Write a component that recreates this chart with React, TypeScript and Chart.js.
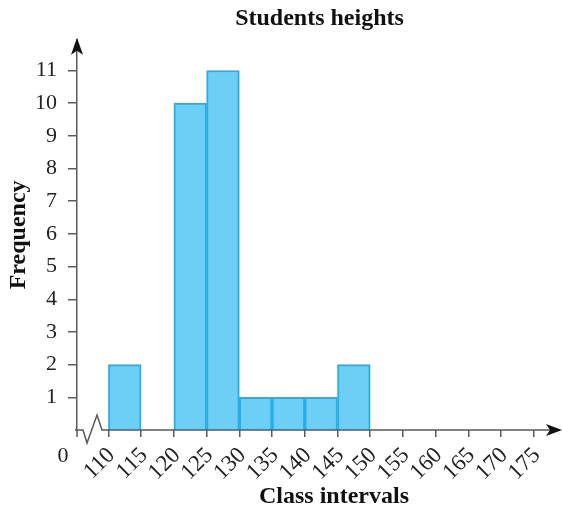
import { useEffect, useRef } from 'react';
import { Chart, registerables } from 'chart.js';

Chart.register(...registerables);

// ---- data ----
const classCenters = [112.5, 117.5, 122.5, 127.5, 132.5, 137.5, 142.5, 147.5];
const frequencies = [2, 0, 10, 11, 1, 1, 1, 2];
const xTickValues = [110, 115, 120, 125, 130, 135, 140, 145, 150, 155, 160, 165, 170, 175];
const yTickValues = [1, 2, 3, 4, 5, 6, 7, 8, 9, 10, 11];
const chartTitle = 'Students heights';
const xAxisTitle = 'Class intervals';
const yAxisTitle = 'Frequency';
const originLabel = '0';

const SERIF = '"Liberation Serif", "Times New Roman", serif';
const AXIS_COLOR = '#5a5a5a';

const decorations = {
  id: 'decorations',
  afterDraw(chart: any) {
    const { ctx, chartArea } = chart;
    const { left, right, top, bottom } = chartArea;
    ctx.save();
    ctx.strokeStyle = AXIS_COLOR;
    ctx.fillStyle = '#111';
    ctx.lineWidth = 1.5;
    // x axis with break
    ctx.beginPath();
    ctx.moveTo(left - 2, bottom);
    ctx.lineTo(left + 6, bottom);
    ctx.lineTo(left + 10, bottom + 13);
    ctx.lineTo(left + 20, bottom - 15);
    ctx.lineTo(left + 25, bottom);
    ctx.lineTo(right - 8, bottom);
    ctx.stroke();
    // y axis extension below
    ctx.beginPath();
    ctx.moveTo(left, bottom);
    ctx.lineTo(left, bottom + 7);
    ctx.stroke();
    // arrows
    ctx.beginPath();
    ctx.moveTo(right, bottom);
    ctx.lineTo(right - 16, bottom - 6);
    ctx.lineTo(right - 12, bottom);
    ctx.lineTo(right - 16, bottom + 6);
    ctx.closePath();
    ctx.fill();
    ctx.beginPath();
    ctx.moveTo(left, top - 2);
    ctx.lineTo(left - 6, top + 15);
    ctx.lineTo(left, top + 11);
    ctx.lineTo(left + 6, top + 15);
    ctx.closePath();
    ctx.fill();
    // origin label
    ctx.fillStyle = '#222';
    ctx.font = `22px ${SERIF}`;
    ctx.textAlign = 'center';
    ctx.textBaseline = 'middle';
    ctx.fillText(originLabel, left - 14, bottom + 26);
    // x axis title
    ctx.fillStyle = '#111';
    ctx.font = `bold 24px ${SERIF}`;
    ctx.fillText(xAxisTitle, 334, 497);
    ctx.restore();
  },
};

export default function App() {
  const canvasRef = useRef<HTMLCanvasElement | null>(null);

  useEffect(() => {
    if (!canvasRef.current) return;
    const chart = new Chart(canvasRef.current, {
      type: 'bar',
      data: {
        datasets: [
          {
            label: 'Frequency',
            data: classCenters.map((x, i) => ({ x, y: frequencies[i] })),
            backgroundColor: '#6DCFF6',
            borderColor: '#2AADE6',
            borderWidth: 2,
            barPercentage: 1,
            categoryPercentage: 1,
          },
        ],
      },
      options: {
        responsive: false,
        animation: false,
        layout: { padding: 0 },
        plugins: {
          legend: { display: false },
          tooltip: { enabled: false },
          title: {
            display: true,
            text: chartTitle,
            fullSize: false,
            color: '#111',
            font: { family: SERIF, size: 24, weight: 'bold' },
            padding: { top: 4, bottom: 7 },
          },
        },
        scales: {
          x: {
            type: 'linear',
            offset: false,
            min: 105.2,
            max: 179.3,
            afterBuildTicks: (s: any) => {
              s.ticks = xTickValues.map((v) => ({ value: v }));
            },
            afterFit: (s: any) => {
              s.height = 81;
            },
            grid: {
              display: true,
              offset: false,
              drawOnChartArea: false,
              drawTicks: true,
              tickLength: 7,
              color: AXIS_COLOR,
              lineWidth: 1.5,
            },
            border: { display: false },
            ticks: {
              autoSkip: false,
              minRotation: 45,
              maxRotation: 45,
              padding: 5,
              labelOffset: 3,
              color: '#222',
              font: { family: SERIF, size: 23 },
              callback: (v: any) => String(v),
            },
          },
          y: {
            type: 'linear',
            min: 0,
            max: 11.94,
            afterBuildTicks: (s: any) => {
              s.ticks = yTickValues.map((v) => ({ value: v }));
            },
            afterFit: (s: any) => {
              s.width = 77;
            },
            grid: {
              display: true,
              drawOnChartArea: false,
              drawTicks: true,
              tickLength: 9,
              color: AXIS_COLOR,
              lineWidth: 1.5,
            },
            border: { display: true, color: AXIS_COLOR, width: 1.5 },
            ticks: {
              padding: 11,
              color: '#222',
              font: { family: SERIF, size: 22 },
            },
            title: {
              display: true,
              text: yAxisTitle,
              color: '#111',
              font: { family: SERIF, size: 24, weight: 'bold' },
              padding: { top: 4, bottom: 0 },
            },
          },
        },
      },
      plugins: [decorations],
    } as any);
    return () => chart.destroy();
  }, []);

  return (
    <div style={{ position: 'fixed', left: 0, top: 0, width: 562, height: 511, background: '#fff' }}>
      <canvas ref={canvasRef} width={562} height={511} style={{ display: 'block' }} />
    </div>
  );
}
